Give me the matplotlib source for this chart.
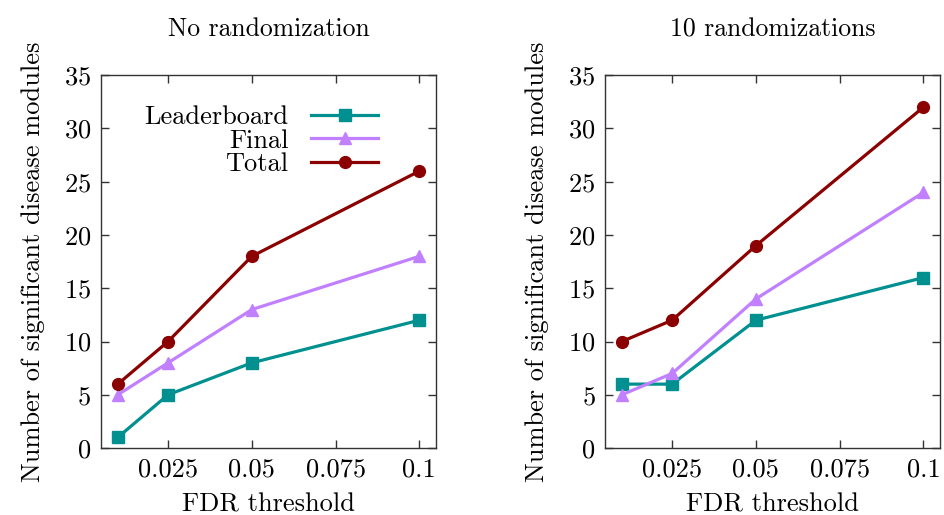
#!/usr/bin/env python3
import matplotlib
matplotlib.use("Agg")
import matplotlib.pyplot as plt

fdr = [0.01, 0.025, 0.05, 0.1]
xticks = [0.025, 0.05, 0.075, 0.1]
xtick_labels = ["0.025", "0.05", "0.075", "0.1"]
yticks = [0, 5, 10, 15, 20, 25, 30, 35]

titles = ["No randomization", "10 randomizations"]
series_names = ["Leaderboard", "Final", "Total"]

# left panel: no randomization
leader_norand = [1, 5, 8, 12]
final_norand = [5, 8, 13, 18]
total_norand = [6, 10, 18, 26]

# right panel: 10 randomizations
leader_rand = [6, 6, 12, 16]
final_rand = [5, 7, 14, 24]
total_rand = [10, 12, 19, 32]

colors = ["#009090", "#c080ff", "#8b0000"]
markers = ["s", "^", "o"]

plt.rcParams["font.family"] = ["cmr10", "DejaVu Serif"]
plt.rcParams["mathtext.fontset"] = "cm"
plt.rcParams["axes.formatter.use_mathtext"] = True
plt.rcParams["font.size"] = 19

fig = plt.figure(figsize=(9.44, 5.15), dpi=100)
ax_l = fig.add_axes([0.107, 0.130, 0.355, 0.724])
ax_r = fig.add_axes([0.641, 0.130, 0.355, 0.724])

panels = [
    (ax_l, [leader_norand, final_norand, total_norand]),
    (ax_r, [leader_rand, final_rand, total_rand]),
]

for i, (ax, data) in enumerate(panels):
    for name, ys, c, m in zip(series_names, data, colors, markers):
        ax.plot(fdr, ys, color=c, marker=m, markersize=8.5, linewidth=2.3, label=name)
    ax.set_xlim(0.005, 0.105)
    ax.set_ylim(0, 35)
    ax.set_xticks(xticks, xtick_labels)
    ax.set_yticks(yticks)
    ax.tick_params(direction="in", length=6, width=1.0, top=True, right=True,
                   color="#333333", pad=7, labelsize=19)
    for sp in ax.spines.values():
        sp.set_color("#333333")
        sp.set_linewidth(1.0)
    ax.set_xlabel("FDR threshold", labelpad=8, fontsize=19)
    ax.set_ylabel("Number of significant disease modules", labelpad=14, fontsize=19)
    ax.set_title(titles[i], pad=28, fontsize=18.5)

leg = ax_l.legend(loc="upper left", bbox_to_anchor=(0.09, 0.955), frameon=False,
                  markerfirst=False, handlelength=2.55, handletextpad=0.85,
                  labelspacing=0.0, fontsize=19, borderpad=0)
for t in leg.get_texts():
    t.set_ha("right")
leg._legend_box.align = "right"

fig.savefig("out.png", dpi=100)
